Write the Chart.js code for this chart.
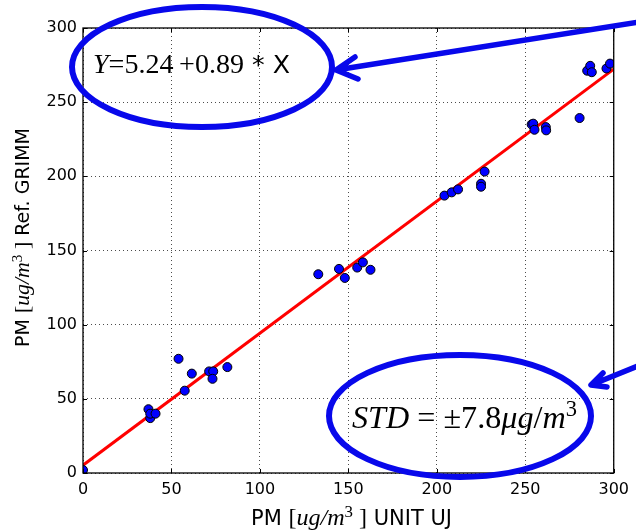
<!DOCTYPE html>
<html lang="en">
<head>
<meta charset="UTF-8">
<title>PM UNIT UJ vs Ref. GRIMM</title>
<script src="https://cdn.jsdelivr.net/npm/chart.js@4.4.1/dist/chart.umd.min.js"></script>
<style>
	html, body { margin: 0; padding: 0; background: #fff; }
	#wrap { width: 636px; height: 531px; }
</style>
</head>
<body>
	<div id="wrap"><canvas id="pmchart"></canvas></div>

	<script>
		// values
		var unitUJ = [0, 37, 38, 38, 41, 54, 57.5, 61.5, 71.3, 73.6, 73.2, 81.6,
			133, 144.7, 148, 155, 158.2, 162.5,
			204.3, 208.4, 212, 225, 225, 227,
			253.6, 254.5, 255.2, 261.6, 261.8, 280.7, 285, 286.7, 287.6, 295.9, 297.9];
		var grimm = [2, 43, 37, 40, 40, 77, 55.5, 67, 68.5, 68.5, 63.5, 71.4,
			134, 137.6, 131.5, 138.5, 142, 137,
			187, 189.2, 191.2, 195, 193, 203.2,
			235, 235.5, 231.4, 233.2, 231, 239.3, 271.2, 274.5, 270.2, 272.7, 276];
		var fitX = [0, 300];
		var fitY = [5.24, 272.24];
		var tickValues = [0, 50, 100, 150, 200, 250, 300];

		var blue = 'rgb(8,8,235)';
		var serif = '"Liberation Serif"';
		var sans = '"DejaVu Sans"';

		function pts(xs, ys) {
			var out = [];
			for (var i = 0; i < xs.length; ++i) out.push({ x: xs[i], y: ys[i] });
			return out;
		}

		// draw a row of text pieces in mixed fonts, scaled so the whole row is `width` wide
		function drawRuns(ctx, runs, x, y, size, width, align) {
			var total = 0;
			runs.forEach(function (r) {
				ctx.font = (r.it ? 'italic ' : '') + (size * (r.sup ? 0.7 : 1) * (r.k || 1)) + 'px ' + r.f;
				r.w = ctx.measureText(r.t).width;
				total += r.w;
			});
			var k = width ? width / total : 1;
			var cx = align == 'center' ? x - total * k / 2 : x;
			runs.forEach(function (r) {
				ctx.font = (r.it ? 'italic ' : '') + (size * k * (r.sup ? 0.7 : 1) * (r.k || 1)) + 'px ' + r.f;
				ctx.fillText(r.t, cx, r.sup ? y - size * k * 0.36 : y);
				cx += r.w * k;
			});
		}

		function unitRuns(tail) {
			return [
				{ t: 'PM ', f: sans },
				{ t: '[', f: serif, k: 1.15 },
				{ t: 'ug/m', f: serif, it: true, k: 1.15 },
				{ t: '3', f: serif, sup: true, k: 1.15 },
				{ t: ' ]', f: serif, k: 1.15 },
				{ t: tail, f: sans }
			];
		}

		var frame = {
			id: 'frame',
			afterDatasetsDraw: function (chart) {
				var ctx = chart.ctx, a = chart.chartArea;
				var sx = chart.scales.x, sy = chart.scales.y;
				ctx.save();
				ctx.strokeStyle = '#000';
				ctx.lineWidth = 1;
				ctx.beginPath();
				tickValues.forEach(function (v) {
					var px = Math.round(sx.getPixelForValue(v)) + 0.5;
					var py = Math.round(sy.getPixelForValue(v)) + 0.5;
					ctx.moveTo(px, a.bottom); ctx.lineTo(px, a.bottom - 4);
					ctx.moveTo(px, a.top); ctx.lineTo(px, a.top + 4);
					ctx.moveTo(a.left, py); ctx.lineTo(a.left + 4, py);
					ctx.moveTo(a.right, py); ctx.lineTo(a.right - 4, py);
				});
				ctx.stroke();
				ctx.lineWidth = 1.3;
				ctx.strokeRect(a.left, a.top, a.right - a.left, a.bottom - a.top);
				ctx.restore();
			},
			afterDraw: function (chart) {
				var ctx = chart.ctx;
				ctx.save();
				ctx.fillStyle = '#000';
				ctx.textBaseline = 'alphabetic';

				// axis titles
				drawRuns(ctx, unitRuns(' UNIT UJ'), 351.5, 525, 17, 201, 'center');
				ctx.translate(29, 237.5);
				ctx.rotate(-Math.PI / 2);
				drawRuns(ctx, unitRuns(' Ref. GRIMM'), 0, 0, 17, 219, 'center');
				ctx.setTransform(1, 0, 0, 1, 0, 0);

				// annotations
				ctx.strokeStyle = blue;
				ctx.lineWidth = 6;
				ctx.lineCap = 'round';
				ctx.lineJoin = 'round';
				ctx.beginPath();
				ctx.ellipse(202, 67, 130, 60, 0, 0, Math.PI * 2);
				ctx.stroke();
				ctx.beginPath();
				ctx.ellipse(460, 416, 131, 61, 0, 0, Math.PI * 2);
				ctx.stroke();

				ctx.lineWidth = 5.5;
				ctx.beginPath();
				ctx.moveTo(645, 21); ctx.lineTo(336, 70);
				ctx.moveTo(355, 57); ctx.lineTo(336, 70); ctx.lineTo(358, 79);
				ctx.moveTo(645, 363); ctx.lineTo(591, 385);
				ctx.moveTo(603, 373); ctx.lineTo(591, 385); ctx.lineTo(607, 387);
				ctx.stroke();

				ctx.fillStyle = '#000';
				drawRuns(ctx, [
					{ t: 'Y', f: serif, it: true },
					{ t: '=5.24\u2009+0.89', f: serif },
					{ t: ' * X', f: sans, k: 0.9 }
				], 93, 73, 26, 197, 'left');
				drawRuns(ctx, [
					{ t: 'STD', f: serif, it: true },
					{ t: ' = \u00b17.8', f: serif },
					{ t: '\u03bcg', f: serif, it: true },
					{ t: '/', f: serif },
					{ t: 'm', f: serif, it: true },
					{ t: '3', f: serif, sup: true }
				], 352, 428, 27, 225, 'left');
				ctx.restore();
			}
		};

		var axisFont = { family: 'DejaVu Sans', size: 16 };

		var chart = new Chart(document.getElementById('pmchart'), {
			type: 'scatter',
			data: {
				datasets: [{
					label: 'measurements',
					data: pts(unitUJ, grimm),
					backgroundColor: '#0000ff',
					borderColor: '#000',
					borderWidth: 1,
					pointRadius: 4.5,
					pointHoverRadius: 4.5,
					clip: 0,
					order: 0
				}, {
					label: 'fit',
					type: 'line',
					data: pts(fitX, fitY),
					borderColor: '#ff0000',
					borderWidth: 3,
					pointRadius: 0,
					fill: false,
					order: 1
				}]
			},
			options: {
				responsive: true,
				maintainAspectRatio: false,
				animation: false,
				events: [],
				layout: { padding: { top: 28, right: 19, left: 0, bottom: 0 } },
				plugins: {
					legend: { display: false },
					tooltip: { enabled: false }
				},
				scales: {
					x: {
						type: 'linear',
						min: 0, max: 300,
						afterFit: function (s) { s.height = 58; },
						ticks: { stepSize: 50, color: '#000', font: axisFont, padding: 7, maxRotation: 0 },
						grid: { color: 'rgba(0,0,0,0.7)', lineWidth: 1, drawTicks: false },
						border: { display: false, dash: [1, 3] }
					},
					y: {
						type: 'linear',
						min: 0, max: 300,
						afterFit: function (s) { s.width = 83; },
						ticks: { stepSize: 50, color: '#000', font: axisFont, padding: 6 },
						grid: { color: 'rgba(0,0,0,0.7)', lineWidth: 1, drawTicks: false },
						border: { display: false, dash: [1, 3] }
					}
				}
			},
			plugins: [frame]
		});
	</script>
</body>
</html>
